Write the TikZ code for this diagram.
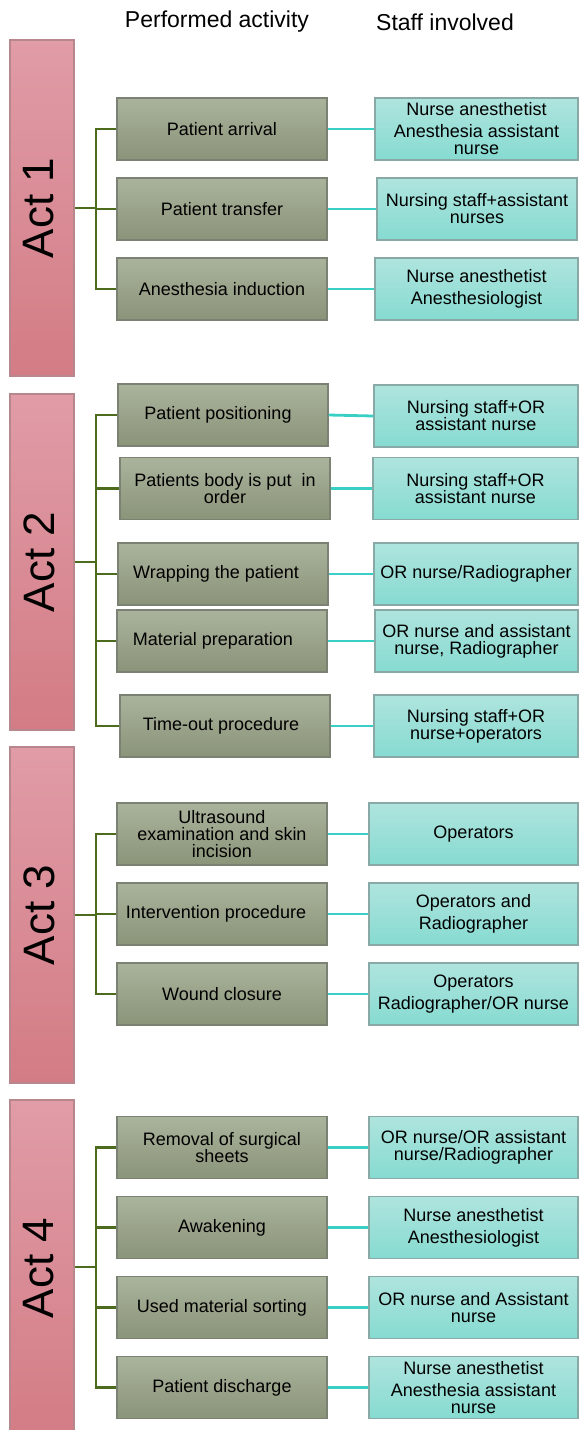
\documentclass[tikz,border=0pt]{standalone}
\usepackage{fontspec}
\setmainfont{Liberation Sans}
\usetikzlibrary{calc}

\definecolor{pinktop}{HTML}{E09CA7}
\definecolor{pinkbot}{HTML}{D37C85}
\definecolor{pinkline}{HTML}{B8878E}
\definecolor{tasktop}{HTML}{AAB39C}
\definecolor{taskbot}{HTML}{8A9479}
\definecolor{taskline}{HTML}{7C8273}
\definecolor{stafftop}{HTML}{AFE4DE}
\definecolor{staffbot}{HTML}{86DBD1}
\definecolor{staffline}{HTML}{88A9A6}
\definecolor{olivelink}{HTML}{4D6B1D}
\definecolor{teallink}{HTML}{3ACFC4}

\begin{document}
\begin{tikzpicture}[x=1pt,y=-1pt,
  actbar/.style={draw=pinkline, line width=1.4pt, top color=pinktop, bottom color=pinkbot,
    minimum width=64pt, minimum height=336pt, inner sep=0pt},
  actlabel/.style={rotate=90, font=\fontsize{44}{44}\selectfont, inner sep=0pt},
  taskbox/.style={draw=taskline, line width=1.4pt, top color=tasktop, bottom color=taskbot,
    minimum width=210pt, minimum height=62pt, inner sep=0pt, align=center,
    font=\fontsize{18}{17}\selectfont},
  staffbox/.style={draw=staffline, line width=1.4pt, top color=stafftop, bottom color=staffbot,
    minimum height=62pt, inner sep=0pt, align=center,
    font=\fontsize{18}{17}\selectfont},
  header/.style={font=\fontsize{23}{23}\selectfont, inner sep=0pt},
  actlink/.style={olivelink, line width=2.5pt},
  stafflink/.style={teallink, line width=2.8pt}]

  \clip (0,0) rectangle (579,1430);

  % column titles
  \node[header] (headtask) at (217,22) {Performed activity};
  \node[header] (headstaff) at (445,22) {Staff involved};

  % Act 1
  \node[actbar] (act1) at (42,208) {};
  \node[actlabel] (lbl1) at (39,208) {Act 1};
  \coordinate (j1) at (96,208);
  \node[taskbox] (task11) at (222,129) {Patient arrival};
  \node[taskbox] (task12) at (222,209) {Patient transfer};
  \node[taskbox] (task13) at (222,289) {Anesthesia induction};
  \node[staffbox, minimum width=203pt] (staff11) at (476.5,129)
    {Nurse anesthetist\\[5pt]Anesthesia assistant\\nurse};
  \node[staffbox, minimum width=200pt] (staff12) at (477,209)
    {Nursing staff+assistant\\nurses};
  \node[staffbox, minimum width=203pt] (staff13) at (476.5,289)
    {Nurse anesthetist\\[5pt]Anesthesiologist};

  % Act 2
  \node[actbar] (act2) at (42,562) {};
  \node[actlabel] (lbl2) at (39,562) {Act 2};
  \coordinate (j2) at (96,562);
  \node[taskbox] (task21) at (223,415) {Patient positioning\hspace*{10pt}};
  \node[taskbox] (task22) at (225,488.5) {Patients body is put\ \ in\\order};
  \node[taskbox] (task23) at (223,574) {Wrapping the patient\hspace*{14pt}};
  \node[taskbox] (task24) at (222,641) {Material preparation\hspace*{18pt}};
  \node[taskbox] (task25) at (225,726) {Time-out procedure\hspace*{8pt}};
  \node[staffbox, minimum width=204pt] (staff21) at (476,416)
    {Nursing staff+OR\\assistant nurse};
  \node[staffbox, minimum width=205pt] (staff22) at (475.5,488.5)
    {Nursing staff+OR\\assistant nurse};
  \node[staffbox, minimum width=204pt] (staff23) at (476,574)
    {OR nurse/Radiographer};
  \node[staffbox, minimum width=203pt] (staff24) at (476.5,641)
    {OR nurse and assistant\\nurse, Radiographer};
  \node[staffbox, minimum width=204pt] (staff25) at (476,726)
    {Nursing staff+OR\\nurse+operators};

  % Act 3
  \node[actbar] (act3) at (42,915) {};
  \node[actlabel] (lbl3) at (39,915) {Act 3};
  \coordinate (j3) at (96,915);
  \node[taskbox] (task31) at (222,834) {Ultrasound\\examination and skin\\incision};
  \node[taskbox] (task32) at (222,914) {Intervention procedure\hspace*{12pt}};
  \node[taskbox] (task33) at (222,994) {Wound closure};
  \node[staffbox, minimum width=209pt] (staff31) at (473.5,834) {Operators};
  \node[staffbox, minimum width=209pt] (staff32) at (473.5,914)
    {Operators and\\[5pt]Radiographer};
  \node[staffbox, minimum width=209pt] (staff33) at (473.5,994)
    {Operators\\[5pt]Radiographer/OR nurse};

  % Act 4
  \node[actbar, minimum height=340pt] (act4) at (42,1270) {};
  \node[actlabel] (lbl4) at (39,1268) {Act 4};
  \coordinate (j4) at (96,1267);
  \node[taskbox] (task41) at (222,1147.5) {Removal of surgical\\sheets};
  \node[taskbox] (task42) at (222,1227.5) {Awakening};
  \node[taskbox] (task43) at (222,1307.5) {Used material sorting};
  \node[taskbox] (task44) at (222,1387.5) {Patient discharge};
  \node[staffbox, minimum width=209pt] (staff41) at (473.5,1147.5)
    {OR nurse/OR assistant\\nurse/Radiographer};
  \node[staffbox, minimum width=209pt] (staff42) at (473.5,1227.5)
    {Nurse anesthetist\\[5pt]Anesthesiologist};
  \node[staffbox, minimum width=209pt] (staff43) at (473.5,1307.5)
    {OR nurse and Assistant\\nurse};
  \node[staffbox, minimum width=209pt] (staff44) at (473.5,1387.5)
    {Nurse anesthetist\\[5pt]Anesthesia assistant\\nurse};

  % tree links from each act to its activities
  \foreach \a/\n in {1/3, 2/5, 3/3, 4/4} {
    \draw[actlink] (act\a.east |- j\a) -- (j\a);
    \foreach \t in {1,...,\n} {
      \draw[actlink] (task\a\t.west) -| (j\a);
      \draw[stafflink] (task\a\t.east) -- (staff\a\t.west);
    }
  }
\end{tikzpicture}
\end{document}
